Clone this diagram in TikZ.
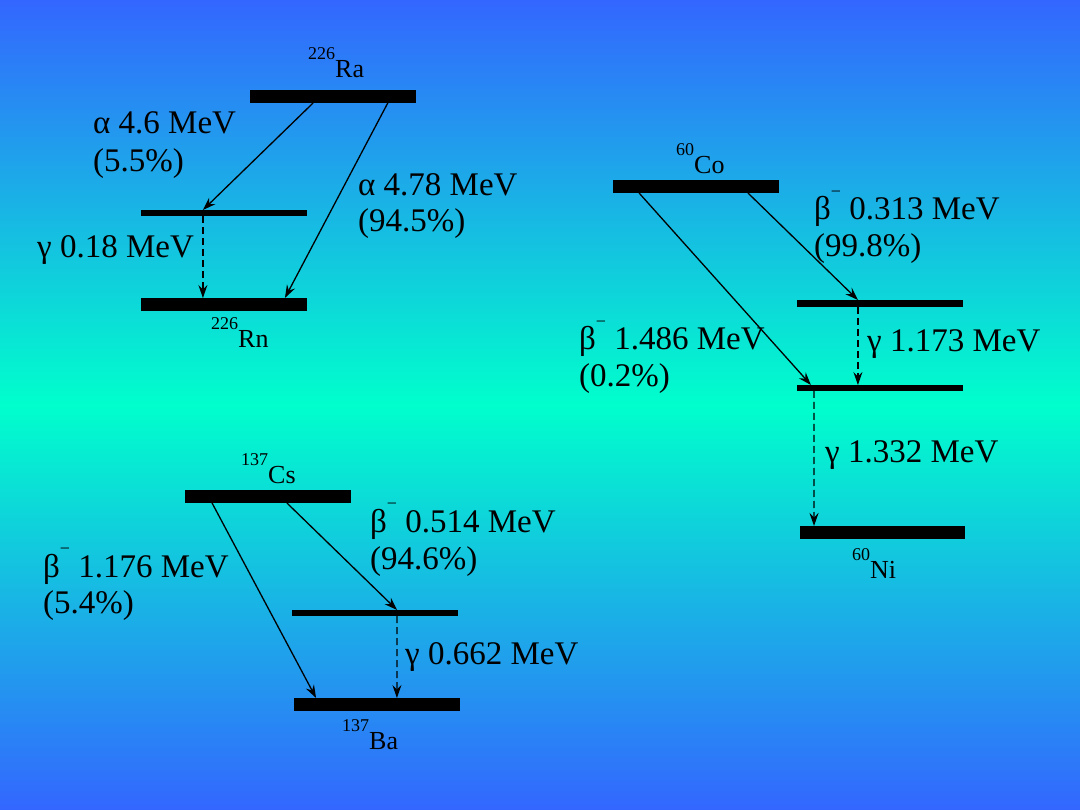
\documentclass[tikz,border=0pt]{standalone}
\usepackage{fontspec}
\setmainfont{Liberation Serif}
\usetikzlibrary{calc,arrows.meta}
\definecolor{bgblue}{RGB}{51,102,255}
\definecolor{bgaqua}{RGB}{0,255,204}
\newcommand{\nuc}[2]{{\fontsize{18}{18}\selectfont\raisebox{18pt}{#1}}{\fontsize{26}{26}\selectfont #2}}
\newcommand{\bminus}{β\raisebox{0.68em}{\fontsize{18}{18}\selectfont −}}
\tikzset{
  thickbar/.style={fill=black, draw=none, inner sep=0pt, outer sep=0pt, minimum width=166pt, minimum height=13pt, anchor=north west},
  thinbar/.style={fill=black, draw=none, inner sep=0pt, outer sep=0pt, minimum width=166pt, minimum height=6pt, anchor=north west},
  lbl/.style={anchor=base west, inner sep=0pt, font=\fontsize{33}{36}\selectfont},
  nuclbl/.style={anchor=base west, inner sep=0pt},
  decay/.style={line width=1.3pt, -{Stealth[length=13pt,width=9pt,inset=4.5pt]}},
  gam/.style={decay, dash pattern=on 7pt off 4pt}
}
\begin{document}
\begin{tikzpicture}[x=1pt,y=-1pt]
\useasboundingbox (0,0) rectangle (1080,810);
\shade[top color=bgblue, bottom color=bgblue, middle color=bgaqua] (0,0) rectangle (1080,810);

% ---------- Ra -> Rn ----------
\node[thickbar] (ra) at (250,90) {};
\node[thinbar] (rn1) at (141,210) {};
\node[thickbar] (rn) at (141,298) {};
\node[nuclbl] (ralbl) at (308,78) {\nuc{226}{Ra}};
\node[nuclbl] (rnlbl) at (211,348) {\nuc{226}{Rn}};
\draw[decay] ($(ra.south west)!0.38!(ra.south east)$) -- ($(rn1.north west)!0.373!(rn1.north east)$);
\draw[decay] ($(ra.south west)!0.83!(ra.south east)$) -- ($(rn.north west)!0.867!(rn.north east)$);
\draw[gam] ($(rn1.south west)!0.373!(rn1.south east)$) -- ($(rn.north west)!0.373!(rn.north east)$);
\node[lbl] (a1) at (93,134) {α 4.6 MeV};
\node[lbl] (a1p) at (93,172) {(5.5\%)};
\node[lbl] (a2) at (358,196) {α 4.78 MeV};
\node[lbl] (a2p) at (358,232) {(94.5\%)};
\node[lbl] (g1) at (37,258) {γ 0.18 MeV};

% ---------- Co -> Ni ----------
\node[thickbar] (co) at (613,180) {};
\node[thinbar, minimum height=7pt] (co1) at (797,300) {};
\node[thinbar] (co2) at (797,385) {};
\node[thickbar, minimum width=165pt] (ni) at (800,526) {};
\node[nuclbl] (colbl) at (676,174) {\nuc{60}{Co}};
\node[nuclbl] (nilbl) at (852,578) {\nuc{60}{Ni}};
\draw[decay] ($(co.south west)!0.813!(co.south east)$) -- ($(co1.north west)!0.367!(co1.north east)$);
\draw[decay] ($(co.south west)!0.157!(co.south east)$) -- ($(co2.north west)!0.084!(co2.north east)$);
\draw[gam] ($(co1.south west)!0.367!(co1.south east)$) -- ($(co2.north west)!0.367!(co2.north east)$);
\draw[gam] ($(co2.south west)!0.102!(co2.south east)$) -- ($(ni.north west)!0.085!(ni.north east)$);
\node[lbl] (b1) at (814,220) {\bminus\ 0.313 MeV};
\node[lbl] (b1p) at (814,257) {(99.8\%)};
\node[lbl] (b2) at (579,350) {\bminus\ 1.486 MeV};
\node[lbl] (b2p) at (579,387) {(0.2\%)};
\node[lbl] (g2) at (867,352) {γ 1.173 MeV};
\node[lbl] (g3) at (825,463) {γ 1.332 MeV};

% ---------- Cs -> Ba ----------
\node[thickbar] (cs) at (185,490) {};
\node[thinbar] (ba1) at (292,610) {};
\node[thickbar] (ba) at (294,698) {};
\node[nuclbl] (cslbl) at (241,483) {\nuc{137}{Cs}};
\node[nuclbl] (balbl) at (342,749) {\nuc{137}{Ba}};
\draw[decay] ($(cs.south west)!0.163!(cs.south east)$) -- ($(ba.north west)!0.133!(ba.north east)$);
\draw[decay] ($(cs.south west)!0.614!(cs.south east)$) -- ($(ba1.north west)!0.633!(ba1.north east)$);
\draw[gam] ($(ba1.south west)!0.633!(ba1.south east)$) -- ($(ba.north west)!0.62!(ba.north east)$);
\node[lbl] (c1) at (370,532) {\bminus\ 0.514 MeV};
\node[lbl] (c1p) at (370,569) {(94.6\%)};
\node[lbl] (c2) at (43,577) {\bminus\ 1.176 MeV};
\node[lbl] (c2p) at (43,613) {(5.4\%)};
\node[lbl] (g4) at (405,664) {γ 0.662 MeV};
\end{tikzpicture}
\end{document}
